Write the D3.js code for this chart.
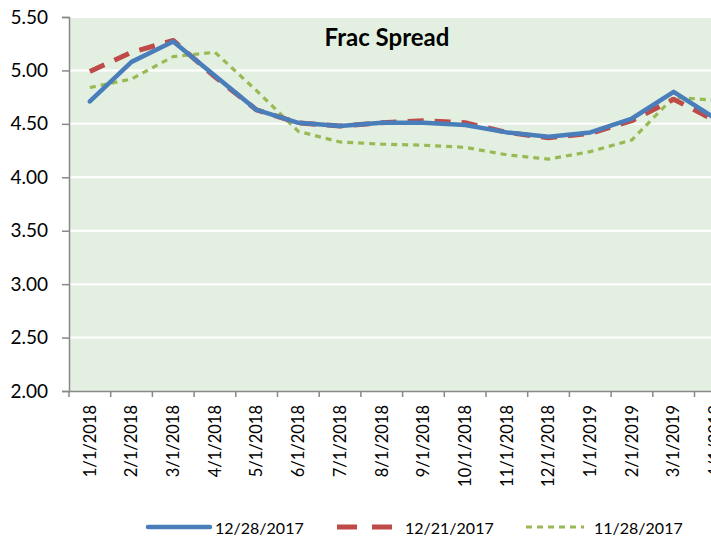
<!DOCTYPE html>
<html><head><meta charset="utf-8">
<script src="https://cdn.jsdelivr.net/npm/d3@7"></script>
<style>body{margin:0;background:#fff}svg{display:block}</style>
</head><body>
<svg id="c" width="711" height="538"></svg>
<script>
const categories = ["1/1/2018","2/1/2018","3/1/2018","4/1/2018","5/1/2018","6/1/2018","7/1/2018","8/1/2018","9/1/2018","10/1/2018","11/1/2018","12/1/2018","1/1/2019","2/1/2019","3/1/2019","4/1/2019"];
const s1228 = [4.71,5.08,5.27,4.95,4.63,4.51,4.48,4.51,4.51,4.49,4.42,4.38,4.42,4.55,4.80,4.55];
const s1221 = [4.99,5.17,5.28,4.94,4.63,4.51,4.48,4.51,4.53,4.51,4.42,4.37,4.41,4.53,4.73,4.53];
const s1128 = [4.84,4.92,5.13,5.17,4.81,4.43,4.33,4.31,4.30,4.28,4.21,4.17,4.24,4.35,4.75,4.72];
const yTicks = [2.00,2.50,3.00,3.50,4.00,4.50,5.00,5.50];
const seriesNames = ["12/28/2017","12/21/2017","11/28/2017"];
const title = "Frac Spread";

const svg = d3.select("#c");
const pL = 69, pT = 17, pB = 391, pR = 69 + 41.7*categories.length;
const font = "Lato, 'Open Sans', sans-serif";

const x = d3.scaleBand().domain(categories).range([pL, pR]);
const y = d3.scaleLinear().domain([2, 5.5]).range([pB, pT]);

svg.append("rect").attr("x", pL).attr("y", pT).attr("width", pR-pL).attr("height", pB-pT).attr("fill", "#e3f0e1");

svg.append("g").selectAll("line").data(yTicks.filter(d=>d>2)).join("line")
  .attr("x1", pL).attr("x2", pR).attr("y1", d=>y(d)).attr("y2", d=>y(d))
  .attr("stroke", "#fff").attr("stroke-width", 2);

const yAxis = svg.append("g").attr("transform", `translate(${pL},0)`)
  .call(d3.axisLeft(y).tickValues(yTicks).tickFormat(d3.format(".2f")).tickSize(7).tickPadding(14));
yAxis.select(".domain").attr("stroke", "#888").attr("stroke-width", 1.5);
yAxis.selectAll(".tick line").attr("stroke", "#888").attr("stroke-width", 1.5);
yAxis.selectAll("text").attr("font-family", font).attr("font-size", 19).attr("fill", "#000");

const xAxis = svg.append("g").attr("transform", `translate(0,${pB})`)
  .call(d3.axisBottom(x).tickSize(0).tickPadding(0));
xAxis.select(".domain").attr("stroke", "#888").attr("stroke-width", 1.5);
xAxis.selectAll(".tick text").attr("font-family", font).attr("font-size", 16.5).attr("fill", "#000")
  .attr("transform", "translate(0,14) rotate(-90)").attr("text-anchor", "end").attr("dx", 0).attr("dy", "0.35em").attr("y", 0);
svg.append("g").selectAll("line").data(d3.range(categories.length+1)).join("line")
  .attr("x1", i=>pL + i*x.step()).attr("x2", i=>pL + i*x.step())
  .attr("y1", pB).attr("y2", pB+6).attr("stroke", "#888").attr("stroke-width", 1.5);

const line = d3.line().x((d,i)=>x(categories[i]) + x.bandwidth()/2).y(d=>y(d));
const styles = [
  {data: s1228, color: "#4a7ebb", w: 4.5, dash: null},
  {data: s1221, color: "#be4b48", w: 5, dash: "16,11"},
  {data: s1128, color: "#98b954", w: 3.2, dash: "6,5"}
];
styles.slice().reverse().forEach(s=>{
  svg.append("path").datum(s.data).attr("d", line).attr("fill","none")
    .attr("stroke", s.color).attr("stroke-width", s.w).attr("stroke-dasharray", s.dash)
    .attr("stroke-linecap", s.dash ? "butt" : "round").attr("stroke-linejoin","round");
});

svg.append("text").attr("x", 387).attr("y", 46).attr("text-anchor","middle")
  .attr("font-family", font).attr("font-weight","bold").attr("font-size", 24).text(title);

const legX = [148, 337, 526];
const legLen = [62, 55, 58];
const legDash = [null, "20,15", "6,5"];
const legText = [215, 405, 594];
styles.forEach((s,i)=>{
  svg.append("line").attr("x1", legX[i]).attr("x2", legX[i]+legLen[i]).attr("y1", 527).attr("y2", 527)
    .attr("stroke", s.color).attr("stroke-width", s.w).attr("stroke-dasharray", legDash[i])
    .attr("stroke-linecap", i===0 ? "round" : "butt");
  svg.append("text").attr("x", legText[i]).attr("y", 534).attr("font-family", font).attr("font-size", 16).text(seriesNames[i]);
});
</script>
</body></html>
